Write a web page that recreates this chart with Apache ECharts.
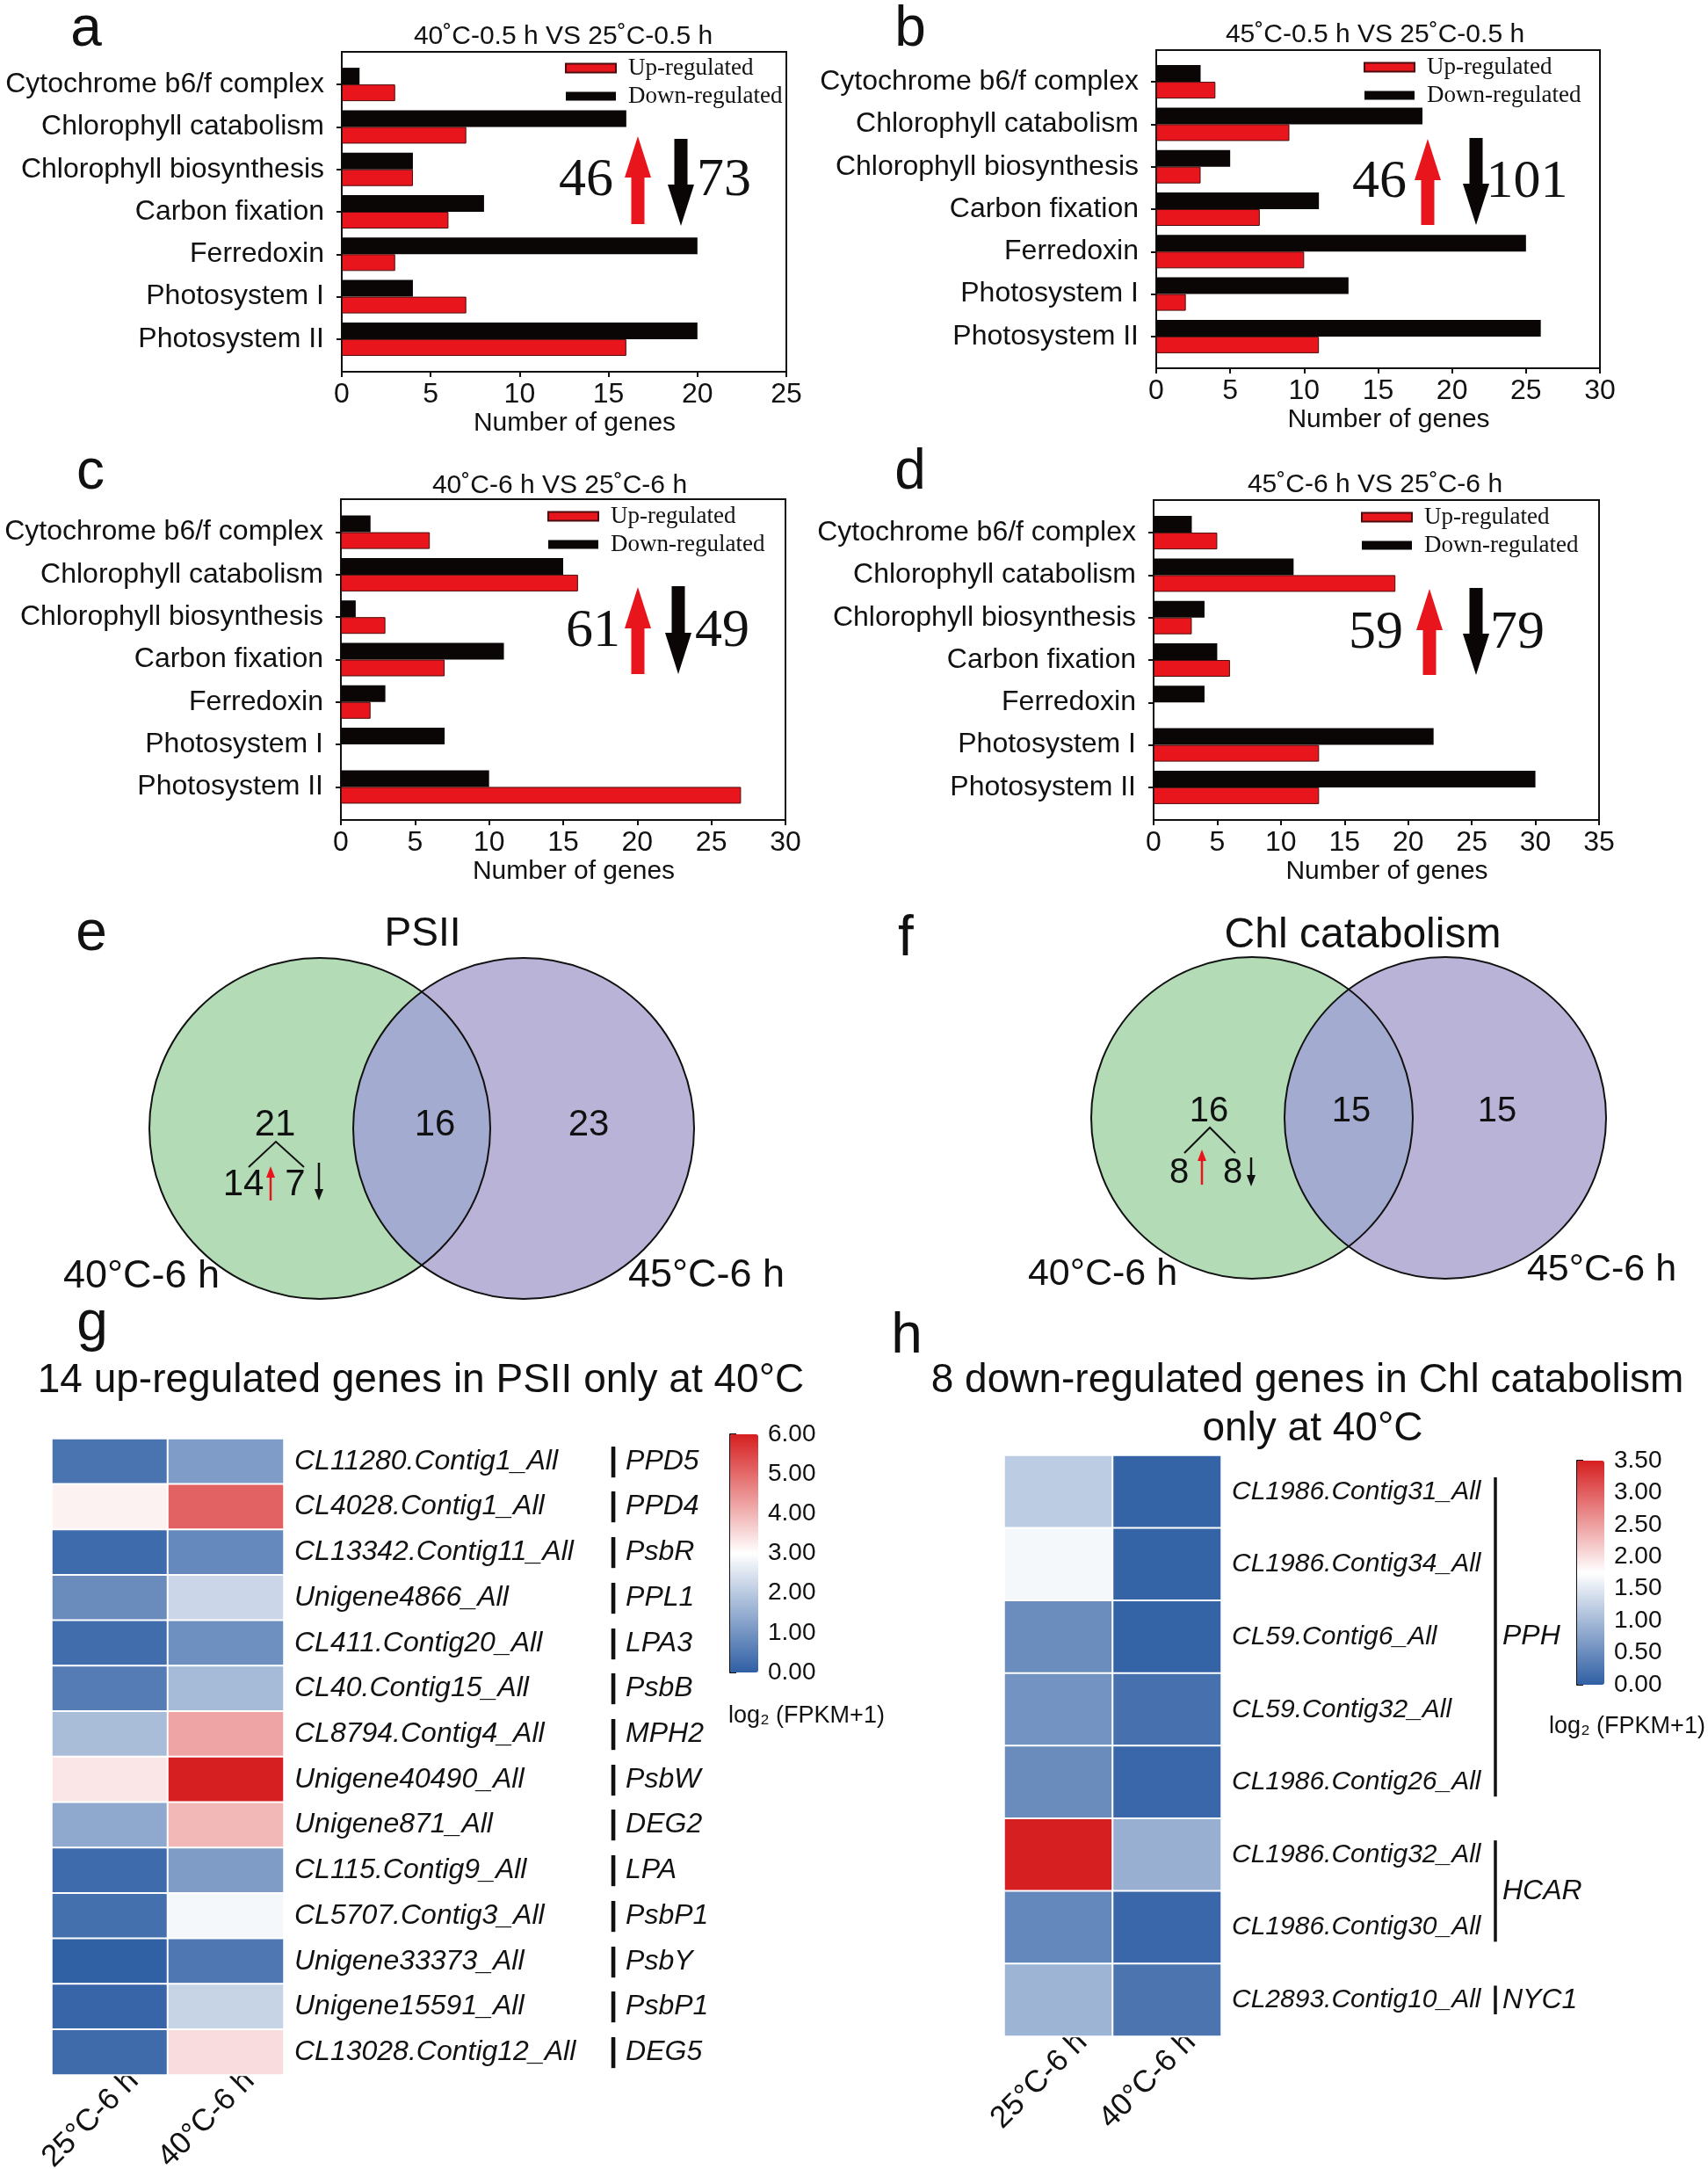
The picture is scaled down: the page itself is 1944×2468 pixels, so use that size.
<!DOCTYPE html>
<html><head><meta charset="utf-8">
<script src="https://cdn.jsdelivr.net/npm/echarts@6/dist/echarts.min.js"></script>
<style>html,body{margin:0;padding:0;background:#fff}#c{width:1944px;height:2468px}</style>
</head><body><div id="c"></div>
<script>
// ---------------- DATA ----------------
const categories = ['Cytochrome b6/f complex','Chlorophyll catabolism','Chlorophyll biosynthesis','Carbon fixation','Ferredoxin','Photosystem I','Photosystem II'];
const upA = [3,7,4,6,3,7,16];
const downA = [1,16,4,8,20,4,20];
const upB = [4,9,3,7,10,2,11];
const downB = [3,18,5,11,25,13,26];
const upC = [6,16,3,7,2,0,27];
const downC = [2,15,1,11,3,7,10];
const upD = [5,19,3,6,0,13,13];
const downD = [3,11,4,5,4,22,30];
const panelTitles = ['40˚C-0.5 h VS 25˚C-0.5 h','45˚C-0.5 h VS 25˚C-0.5 h','40˚C-6 h VS 25˚C-6 h','45˚C-6 h VS 25˚C-6 h'];
const xMaxes = [25,30,30,35];

const vennPSII = [21,16,23];       // only 40, both, only 45
const vennPSIIsplit = [14,7];      // up, down
const vennChl = [16,15,15];
const vennChlSplit = [8,8];
const vennSets = ['40°C-6 h','45°C-6 h'];

const hmCols = ['25°C-6 h','40°C-6 h'];
const psiiContigs = ['CL11280.Contig1_All','CL4028.Contig1_All','CL13342.Contig11_All','Unigene4866_All','CL411.Contig20_All','CL40.Contig15_All','CL8794.Contig4_All','Unigene40490_All','Unigene871_All','CL115.Contig9_All','CL5707.Contig3_All','Unigene33373_All','Unigene15591_All','CL13028.Contig12_All'];
const psiiGenes = ['PPD5','PPD4','PsbR','PPL1','LPA3','PsbB','MPH2','PsbW','DEG2','LPA','PsbP1','PsbY','PsbP1','DEG5'];
const psii25 = [0.39,3.17,0.22,0.84,0.26,0.55,1.76,3.33,1.38,0.22,0.32,0.03,0.12,0.23];
const psii40 = [1.14,5.10,0.78,2.25,0.91,1.72,4.23,6.00,3.95,1.15,2.86,0.46,2.19,3.45];
const chlContigs = ['CL1986.Contig31_All','CL1986.Contig34_All','CL59.Contig6_All','CL59.Contig32_All','CL1986.Contig26_All','CL1986.Contig32_All','CL1986.Contig30_All','CL2893.Contig10_All'];
const chl25 = [1.19,1.67,0.50,0.57,0.49,3.50,0.45,0.93];
const chl40 = [0.04,0.04,0.04,0.19,0.09,0.88,0.09,0.24];
const chlGroupNames = ['PPH','HCAR','NYC1'];
const chlGroupStart = [0,5,7];
const chlGroupEnd = [4,6,7];
const cbTicksG = [0,6,1];   // min,max,step
const cbTicksH = [0,3.5,0.5];

// ---------------- LAYOUT ----------------
const SANS = '"Liberation Sans", Arial, sans-serif';
const SERIF = '"Liberation Serif", "Times New Roman", serif';
const INK = '#111';
const RED = '#e8161c', BLACK = '#0b0606';
const HM_COLORS = ['#2f5fa4','#ffffff','#d61f20'];
const BAND = 48.3;
const ups = [upA,upB,upC,upD], downs = [downA,downB,downC,downD];
const panels = [
 {box:[389,59,506,364], title:[641,42], legend:[643,64], up:[726,155,255], down:[775,158,257], nL:[667,206], nR:[824,206], letter:['a',98,34]},
 {box:[1316,57,505,362], title:[1565,40], legend:[1552,63], up:[1625,158,256], down:[1680,157,256], nL:[1570,208], nR:[1738,208], letter:['b',1036,34]},
 {box:[388,568,506,365], title:[637,553], legend:[623,574], up:[726,668,767], down:[772,667,767], nL:[675,719], nR:[822,719], letter:['c',103,538]},
 {box:[1313,569,507,364], title:[1565,552], legend:[1549,575], up:[1627,670,768], down:[1680,669,768], nL:[1566,721], nR:[1727,721], letter:['d',1036,538]}
];

const grids = [], xAxes = [], yAxes = [], series = [], legends = [];
const lbl = {color: INK, fontFamily: SANS};
const NOB = {outerBoundsMode:'none', containLabel:false};

// box grids 0-3
panels.forEach((p,k)=>{
  const [l,t,w,h] = p.box;
  grids.push(Object.assign({left:l, top:t, width:w, height:h, show:true, borderColor:INK, borderWidth:2, backgroundColor:'transparent'}, NOB));
  xAxes.push({gridIndex:k, type:'value', min:0, max:xMaxes[k], interval:5, position:'bottom',
    axisLine:{show:true, lineStyle:{color:INK, width:2}},
    axisTick:{show:true, length:6, lineStyle:{color:INK, width:2}},
    axisLabel:Object.assign({fontSize:32, margin:10}, lbl),
    splitLine:{show:false},
    name:'Number of genes', nameLocation:'middle', nameGap:44,
    nameTextStyle:{fontSize:30, color:INK, fontFamily:SANS, padding:[0,0,0,24]}});
  yAxes.push({gridIndex:k, type:'value', min:0, max:1, show:false});
});
// bar grids 4-7
panels.forEach((p,k)=>{
  const [l,t,w,h] = p.box;
  const pad = (h - 7*BAND)/2;
  grids.push(Object.assign({left:l, top:t+pad, width:w, height:h-2*pad}, NOB));
  xAxes.push({gridIndex:4+k, type:'value', min:0, max:xMaxes[k], show:false});
  yAxes.push({gridIndex:4+k, type:'category', data:categories, inverse:true,
    axisLine:{show:false},
    axisTick:{show:true, alignWithLabel:true, length:6, lineStyle:{color:INK, width:2}},
    axisLabel:Object.assign({fontSize:32, margin:20}, lbl)});
  series.push({name:'Down-regulated', type:'bar', xAxisIndex:4+k, yAxisIndex:4+k, data:downs[k],
    barWidth:19, barGap:'0%', itemStyle:{color:BLACK}});
  series.push({name:'Up-regulated', type:'bar', xAxisIndex:4+k, yAxisIndex:4+k,
    data:ups[k].map(v => v===0 ? {value:0, itemStyle:{borderWidth:0}} : v),
    barWidth:19, barGap:'0%', itemStyle:{color:RED, borderColor:'#4a0c0c', borderWidth:1}});
  legends.push({data:['Up-regulated','Down-regulated'], orient:'vertical', align:'left', left:p.legend[0], top:p.legend[1],
    itemWidth:57, itemHeight:10, itemGap:5, icon:'rect', padding:0, selectedMode:false,
    textStyle:{fontFamily:SERIF, fontSize:27, color:INK, padding:[0,0,0,9]}});
});

// heatmap grids 8 (g) and 9 (h)
grids.push(Object.assign({left:59, top:1637, width:264, height:724}, NOB));
grids.push(Object.assign({left:1143, top:1656, width:247, height:661}, NOB));
[8,9].forEach(gi=>{
  xAxes.push({gridIndex:gi, type:'category', data:hmCols, position:'bottom',
    axisLine:{show:false}, axisTick:{show:false}, splitLine:{show:false},
    axisLabel:Object.assign({fontSize:35, rotate:45, interval:0, verticalAlign:'top', margin:4, padding:[0,-21,0,0]}, lbl)});
});
yAxes.push({gridIndex:8, type:'category', data:psiiContigs, inverse:true, position:'right',
  axisLine:{show:false}, axisTick:{show:false},
  axisLabel:Object.assign({fontSize:32, fontStyle:'italic', margin:12}, lbl)});
yAxes.push({gridIndex:9, type:'category', data:chlContigs, inverse:true, position:'right',
  axisLine:{show:false}, axisTick:{show:false},
  axisLabel:Object.assign({fontSize:30, fontStyle:'italic', margin:12}, lbl)});

// colorbar axis grids 10, 11
grids.push(Object.assign({left:831, top:1632, width:32, height:271}, NOB));
grids.push(Object.assign({left:1795, top:1662, width:31, height:255}, NOB));
[[10,cbTicksG],[11,cbTicksH]].forEach(([gi,tk])=>{
  xAxes.push({gridIndex:gi, type:'value', show:false, min:0, max:1});
  yAxes.push({gridIndex:gi, type:'value', min:tk[0], max:tk[1], interval:tk[2], position:'right',
    axisLine:{show:true, lineStyle:{color:INK, width:2}},
    axisTick:{show:true, length:7, lineStyle:{color:INK, width:2}},
    splitLine:{show:false},
    axisLabel:Object.assign({fontSize:28, margin:11, formatter:v=>v.toFixed(2)}, lbl)});
});
// gene-name axis for g (yAxis 12)
yAxes.push({gridIndex:8, type:'category', data:psiiGenes, inverse:true, position:'right', offset:370,
  axisLine:{show:false}, axisTick:{show:false},
  axisLabel:{margin:0, color:INK, fontFamily:SANS,
    formatter:v=>'{bar||}{g|'+v+'}',
    rich:{bar:{fontSize:36, fontWeight:'bold', color:INK, fontFamily:SANS, padding:[0,9,0,0]},
          g:{fontSize:32, fontStyle:'italic', color:INK, fontFamily:SANS}}}});

// heatmap series 8, 9
series.push({type:'heatmap', xAxisIndex:8, yAxisIndex:8,
  data: psii25.map((v,i)=>[0,i,v]).concat(psii40.map((v,i)=>[1,i,v])),
  itemStyle:{borderColor:'#fff', borderWidth:2}, emphasis:{disabled:true}});
series.push({type:'heatmap', xAxisIndex:9, yAxisIndex:9,
  data: chl25.map((v,i)=>[0,i,v]).concat(chl40.map((v,i)=>[1,i,v])),
  itemStyle:{borderColor:'#fff', borderWidth:2}, emphasis:{disabled:true}});

const visualMap = [
  {type:'continuous', seriesIndex:8, dimension:2, min:cbTicksG[0], max:cbTicksG[1], left:831, top:1632,
   itemWidth:32, itemHeight:271, padding:0, calculable:false, hoverLink:false, inRange:{color:HM_COLORS}},
  {type:'continuous', seriesIndex:9, dimension:2, min:cbTicksH[0], max:cbTicksH[1], left:1795, top:1662,
   itemWidth:31, itemHeight:255, padding:0, calculable:false, hoverLink:false, inRange:{color:HM_COLORS}}
];

// ---------------- GRAPHICS (annotations) ----------------
const G = [];
function txt(x,y,text,size,opt){
  opt = opt||{};
  const a = opt.align||'center', va = opt.va||'middle';
  G.push({type:'text', x:x, y:y, z:50, silent:true, style:{text:text, fill:opt.fill||INK, fontSize:size,
    fontFamily:opt.family||SANS, fontStyle:opt.style||'normal', fontWeight:opt.weight||'normal',
    align:a, verticalAlign:va, textAlign:a, textVerticalAlign:va}});
}
function bigArrow(cx,yTop,yBot,up,color){
  const hw=15, sw=7.5, hl=47;
  const pts = up ?
    [[cx,yTop],[cx+hw,yTop+hl],[cx+sw,yTop+hl],[cx+sw,yBot],[cx-sw,yBot],[cx-sw,yTop+hl],[cx-hw,yTop+hl]] :
    [[cx,yBot],[cx+hw,yBot-hl],[cx+sw,yBot-hl],[cx+sw,yTop],[cx-sw,yTop],[cx-sw,yBot-hl],[cx-hw,yBot-hl]];
  G.push({type:'polygon', z:40, silent:true, shape:{points:pts}, style:{fill:color}});
}
function thinArrow(x,yTop,yBot,up,color){
  const hl=13, hw=5;
  if(up){
    G.push({type:'line', z:40, silent:true, shape:{x1:x,y1:yBot,x2:x,y2:yTop+hl-2}, style:{stroke:color,lineWidth:2.5}});
    G.push({type:'polygon', z:40, silent:true, shape:{points:[[x,yTop],[x+hw,yTop+hl],[x-hw,yTop+hl]]}, style:{fill:color}});
  } else {
    G.push({type:'line', z:40, silent:true, shape:{x1:x,y1:yTop,x2:x,y2:yBot-hl+2}, style:{stroke:color,lineWidth:2.5}});
    G.push({type:'polygon', z:40, silent:true, shape:{points:[[x,yBot],[x+hw,yBot-hl],[x-hw,yBot-hl]]}, style:{fill:color}});
  }
}
const sum = a => a.reduce((s,v)=>s+v,0);

panels.forEach((p,k)=>{
  txt(p.letter[1], p.letter[2], p.letter[0], 64);
  txt(p.title[0], p.title[1], panelTitles[k], 30);
  bigArrow(p.up[0], p.up[1], p.up[2], true, '#e8161c');
  bigArrow(p.down[0], p.down[1], p.down[2], false, '#0b0606');
  txt(p.nL[0], p.nL[1], String(sum(ups[k])), 62, {family:SERIF});
  txt(p.nR[0], p.nR[1], String(sum(downs[k])), 62, {family:SERIF});
});

// Venn diagrams
function venn(c1x, c2x, cy, r, counts, split, title, titlePos, letter, letterPos, numSize, lay){
  const GREEN='#b2dbb6', PURPLE='#bab3d8', OVER='#a3acd0';
  G.push({type:'circle', z:10, silent:true, shape:{cx:c1x, cy:cy, r:r}, style:{fill:GREEN}});
  G.push({type:'circle', z:11, silent:true, shape:{cx:c2x, cy:cy, r:r}, style:{fill:PURPLE}});
  const d = c2x - c1x, alpha = Math.acos((d/2)/r), pts = [];
  for(let i=0;i<=60;i++){ const a=-alpha+2*alpha*i/60; pts.push([c1x+r*Math.cos(a), cy+r*Math.sin(a)]); }
  for(let i=0;i<=60;i++){ const a=Math.PI-alpha+2*alpha*i/60; pts.push([c2x+r*Math.cos(a), cy+r*Math.sin(a)]); }
  G.push({type:'polygon', z:12, silent:true, shape:{points:pts}, style:{fill:OVER}});
  G.push({type:'circle', z:13, silent:true, shape:{cx:c1x, cy:cy, r:r}, style:{fill:'none', stroke:'#111', lineWidth:2}});
  G.push({type:'circle', z:13, silent:true, shape:{cx:c2x, cy:cy, r:r}, style:{fill:'none', stroke:'#111', lineWidth:2}});
  txt(titlePos[0], titlePos[1], title, lay.titleSize);
  txt(letterPos[0], letterPos[1], letter, 64);
  txt(lay.n[0][0], lay.n[0][1], String(counts[0]), numSize);
  txt(lay.n[1][0], lay.n[1][1], String(counts[1]), numSize);
  txt(lay.n[2][0], lay.n[2][1], String(counts[2]), numSize);
  const ap = lay.apex;
  G.push({type:'polyline', z:40, silent:true, shape:{points:[lay.branchL, ap, lay.branchR]}, style:{stroke:'#111', lineWidth:2, fill:'none'}});
  txt(lay.s[0][0], lay.s[0][1], String(split[0]), numSize);
  txt(lay.s[1][0], lay.s[1][1], String(split[1]), numSize);
  thinArrow(lay.ua[0], lay.ua[1], lay.ua[2], true, '#e8161c');
  thinArrow(lay.da[0], lay.da[1], lay.da[2], false, '#111');
  txt(lay.set1[0], lay.set1[1], vennSets[0], lay.setSize);
  txt(lay.set2[0], lay.set2[1], vennSets[1], lay.setSize);
}
venn(364, 596, 1284, 194, vennPSII, vennPSIIsplit, 'PSII', [481,1063], 'e', [104,1063], 42,
  {titleSize:46, n:[[313,1280],[495,1280],[670,1280]], apex:[314,1299], branchL:[283,1328], branchR:[346,1328],
   s:[[277,1348],[336,1348]], ua:[308,1327,1366], da:[363,1323,1366], set1:[161,1453], set2:[804,1452], setSize:45});
venn(1425, 1645, 1272, 183, vennChl, vennChlSplit, 'Chl catabolism', [1551,1065], 'f', [1031,1069], 40,
  {titleSize:48, n:[[1376,1265],[1538,1265],[1704,1265]], apex:[1377,1283], branchL:[1348,1312], branchR:[1406,1312],
   s:[[1342,1335],[1403,1335]], ua:[1368,1308,1348], da:[1424,1317,1350], set1:[1255,1450], set2:[1823,1445], setSize:43});

// heatmap headings
txt(105, 1507, 'g', 64);
txt(1032, 1521, 'h', 64);
txt(479, 1571, '14 up-regulated genes in PSII only at 40°C', 46);
txt(1488, 1571, '8 down-regulated genes in Chl catabolism', 46);
txt(1494, 1626, 'only at 40°C', 46);
txt(918, 1953, 'log₂ (FPKM+1)', 27);
txt(1852, 1965, 'log₂ (FPKM+1)', 27);

// ---------------- RENDER ----------------
const chart = echarts.init(document.getElementById('c'), null, {renderer:'canvas', width:1944, height:2468});
chart.setOption({
  animation:false,
  backgroundColor:'#fff',
  textStyle:{fontFamily:SANS, color:INK},
  grid:grids, xAxis:xAxes, yAxis:yAxes, legend:legends, visualMap:visualMap, series:series
});

// group brackets for h, placed through the heatmap's own axes
const finder = {xAxisIndex:9, yAxisIndex:9};
const c0 = chart.convertToPixel(finder, [1, 0]);
const c1 = chart.convertToPixel(finder, [1, 1]);
const band = c1[1] - c0[1];
const bx = 1702, inset = 25;
chlGroupNames.forEach((name,i)=>{
  const yTop = chart.convertToPixel(finder, [1, chlGroupStart[i]])[1] - band/2 + inset;
  const yBot = chart.convertToPixel(finder, [1, chlGroupEnd[i]])[1] + band/2 - inset;
  G.push({type:'line', z:40, silent:true, shape:{x1:bx, y1:yTop, x2:bx, y2:yBot}, style:{stroke:INK, lineWidth:3.5}});
  txt(bx + 8, (yTop+yBot)/2, name, 32, {align:'left', style:'italic'});
});
chart.setOption({graphic:{elements:G}});
</script>
</body></html>
